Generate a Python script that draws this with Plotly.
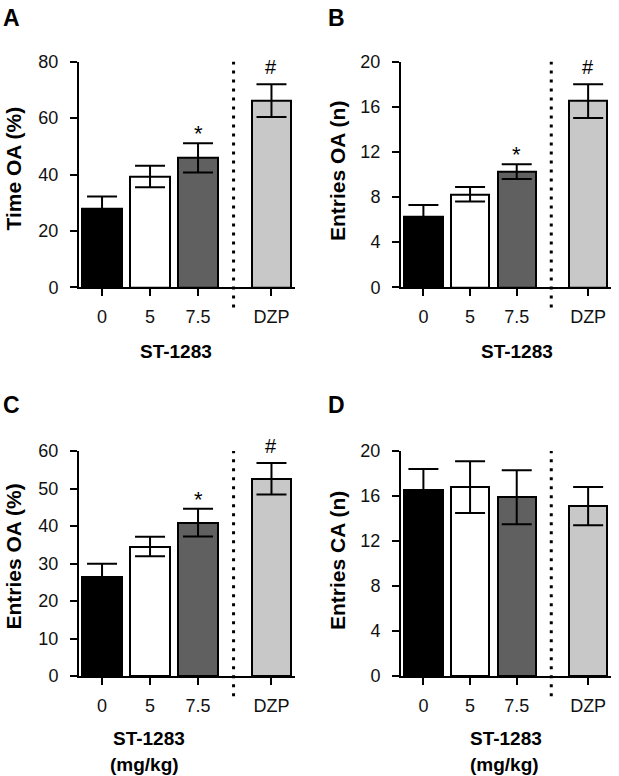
import plotly.graph_objects as go

# ---------------- data ----------------
categories = ["0", "5", "7.5", "DZP"]
category_pos = [0, 1, 2, 3.53]

time_oa_mean = [27.7, 39.3, 45.9, 66.2]
time_oa_sem = [4.5, 3.8, 5.2, 5.8]

entries_oa_n_mean = [6.25, 8.25, 10.25, 16.5]
entries_oa_n_sem = [1.05, 0.65, 0.65, 1.5]

entries_oa_pct_mean = [26.5, 34.5, 40.9, 52.6]
entries_oa_pct_sem = [3.4, 2.6, 3.7, 4.2]

entries_ca_mean = [16.5, 16.8, 15.9, 15.1]
entries_ca_sem = [1.9, 2.3, 2.4, 1.7]

marks_abc = ["", "", "*", "#"]
marks_d = ["", "", "", ""]

panel_letters = ["A", "B", "C", "D"]
y_titles = ["Time OA (%)", "Entries OA (n)", "Entries OA (%)", "Entries CA (n)"]
y_ticks_a = [0, 20, 40, 60, 80]
y_ticks_b = [0, 4, 8, 12, 16, 20]
y_ticks_c = [0, 10, 20, 30, 40, 50, 60]
y_ticks_d = [0, 4, 8, 12, 16, 20]
x_title = "ST-1283"
x_unit = "(mg/kg)"

# ---------------- styles ----------------
W, H = 619, 776
FONT = "Liberation Sans, Arial, sans-serif"
bar_colors = ["#000000", "#ffffff", "#606060", "#c8c8c8"]

def px_x(p):
    return p / W

def px_y(p):
    return 1 - p / H

panels = [
    dict(mean=time_oa_mean, sem=time_oa_sem, ticks=y_ticks_a, marks=marks_abc,
         xdom=(79, 295), ydom=(287.3, 61.7), letter=(1, 18), ytitle=(12.5, 169),
         xtitles=[(176, 352)]),
    dict(mean=entries_oa_n_mean, sem=entries_oa_n_sem, ticks=y_ticks_b, marks=marks_abc,
         xdom=(401, 611), ydom=(287.3, 61.7), letter=(326, 18), ytitle=(337, 171),
         xtitles=[(517, 352)]),
    dict(mean=entries_oa_pct_mean, sem=entries_oa_pct_sem, ticks=y_ticks_c, marks=marks_abc,
         xdom=(79, 295), ydom=(676, 451), letter=(1, 405), ytitle=(12.5, 557),
         xtitles=[(149, 738), (144, 764)]),
    dict(mean=entries_ca_mean, sem=entries_ca_sem, ticks=y_ticks_d, marks=marks_d,
         xdom=(401, 611), ydom=(676, 451), letter=(326, 405), ytitle=(337, 561),
         xtitles=[(506, 738), (504, 764)]),
]

fig = go.Figure()
annotations = []
shapes = []

for i, p in enumerate(panels):
    n = "" if i == 0 else str(i + 1)
    xa, ya = "x" + n, "y" + n
    fig.add_trace(go.Bar(
        x=category_pos, y=p["mean"], width=0.82,
        marker=dict(color=bar_colors, line=dict(color="black", width=2)),
        error_y=dict(type="data", array=p["sem"], visible=True,
                     color="black", thickness=2, width=15),
        xaxis=xa, yaxis=ya, showlegend=False, hoverinfo="skip",
    ))
    axis_common = dict(showline=True, linecolor="black", linewidth=2,
                       ticks="outside", ticklen=7, tickwidth=2, tickcolor="black",
                       showgrid=False, zeroline=False, automargin=False,
                       tickfont=dict(family=FONT, size=18, color="#111"))
    fig.layout["xaxis" + n] = dict(
        domain=[px_x(p["xdom"][0]), px_x(p["xdom"][1])],
        range=[-0.48, 4.02], anchor=ya, ticklabelstandoff=5,
        tickmode="array", tickvals=category_pos, ticktext=categories,
        **axis_common)
    fig.layout["yaxis" + n] = dict(
        domain=[px_y(p["ydom"][0]), px_y(p["ydom"][1])],
        range=[0, p["ticks"][-1]], anchor=xa, ticklabelstandoff=8,
        tickmode="array", tickvals=p["ticks"],
        **axis_common)

    # dotted separator
    shapes.append(dict(type="line", xref=xa, yref=ya + " domain",
                       x0=2.74, x1=2.74, y0=-0.09, y1=1.0,
                       line=dict(color="black", width=3, dash="3px,6px")))

    # significance marks
    for xv, m, s, mk in zip(category_pos, p["mean"], p["sem"], p["marks"]):
        if mk:
            annotations.append(dict(
                x=xv, y=m + s, xref=xa, yref=ya, text=mk, showarrow=False,
                yanchor="bottom", yshift=(-5 if mk == "*" else 4),
                font=dict(family=FONT, size=(22 if mk == "*" else 20), color="black")))

    # panel letter
    annotations.append(dict(
        x=px_x(p["letter"][0]), y=px_y(p["letter"][1]), xref="paper", yref="paper",
        text="<b>%s</b>" % panel_letters[i], showarrow=False,
        xanchor="left", yanchor="middle",
        font=dict(family=FONT, size=23, color="black")))

    # y title
    annotations.append(dict(
        x=px_x(p["ytitle"][0]), y=px_y(p["ytitle"][1]), xref="paper", yref="paper",
        text="<b>%s</b>" % y_titles[i], showarrow=False, textangle=-90,
        xanchor="center", yanchor="middle",
        font=dict(family=FONT, size=21, color="black")))

    # x titles
    for txt, pos in zip([x_title, x_unit], p["xtitles"]):
        annotations.append(dict(
            x=px_x(pos[0]), y=px_y(pos[1]), xref="paper", yref="paper",
            text="<b>%s</b>" % txt, showarrow=False,
            xanchor="center", yanchor="middle",
            font=dict(family=FONT, size=19, color="black")))

fig.update_layout(
    width=W, height=H, autosize=False,
    margin=dict(l=0, r=0, t=0, b=0, pad=0, autoexpand=False),
    paper_bgcolor="white", plot_bgcolor="white",
    bargap=0, annotations=annotations, shapes=shapes,
    font=dict(family=FONT, color="black"),
)

fig.write_html("out.html", config={"displayModeBar": False},
               post_script="document.body.style.margin='0';")
